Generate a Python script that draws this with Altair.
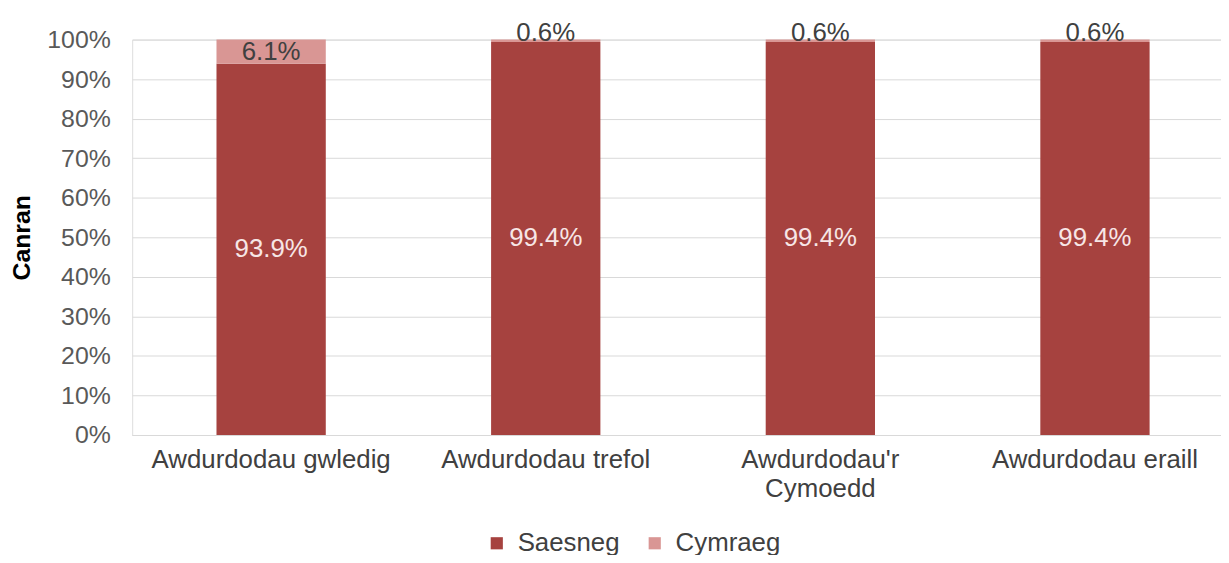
import altair as alt
import pandas as pd

categories = ["Awdurdodau gwledig", "Awdurdodau trefol", "Awdurdodau'r Cymoedd", "Awdurdodau eraill"]
series = ["Saesneg", "Cymraeg"]
saesneg = [93.9, 99.4, 99.4, 99.4]
cymraeg = [6.1, 0.6, 0.6, 0.6]
colors = ["#A6423F", "#D99694"]
y_ticks = [0, 10, 20, 30, 40, 50, 60, 70, 80, 90, 100]

rows = []
for i, c in enumerate(categories):
    rows.append({"category": c, "series": "Saesneg", "value": saesneg[i], "order": 0})
    rows.append({"category": c, "series": "Cymraeg", "value": cymraeg[i], "order": 1})
df = pd.DataFrame(rows)

FONT = "Liberation Sans"

label_expr = "datum.label == \"Awdurdodau'r Cymoedd\" ? [\"Awdurdodau'r\", \"Cymoedd\"] : datum.label"

x_axis = alt.Axis(
    title=None, labelAngle=0, labelFont=FONT, labelFontSize=26,
    labelColor="#404040", ticks=False, tickSize=0, domain=True,
    domainColor="#D9D9D9", labelPadding=12, labelLimit=500,
    labelLineHeight=29, labelExpr=label_expr, grid=False,
)
x_scale = alt.Scale(paddingInner=0.602, paddingOuter=0.307, range=[0, 1109])
y_axis = alt.Axis(
    title="Canran", titleFont=FONT, titleFontSize=25, titleFontWeight="bold",
    titleColor="#000000", titlePadding=12,
    values=y_ticks, labelExpr="datum.value + '%'", labelFont=FONT,
    labelFontSize=25, labelColor="#595959", ticks=False, tickSize=0,
    labelPadding=22, domain=False, gridColor="#D9D9D9", gridWidth=1,
    labelOverlap=False,
)
y_scale = alt.Scale(domain=[0, 100], nice=False)

x_enc = alt.X("category:N", sort=categories, scale=x_scale, axis=x_axis)

base = alt.Chart(df).transform_stack(
    stack="value", groupby=["category"], as_=["y0", "y1"],
    sort=[alt.SortField("order", order="ascending")],
).transform_calculate(
    mid="(datum.y0 + datum.y1) / 2",
    label="format(datum.value, '.1f') + '%'",
)

bars = base.mark_bar().encode(
    x=x_enc,
    y=alt.Y("y0:Q", scale=y_scale, axis=y_axis),
    y2="y1:Q",
    color=alt.Color(
        "series:N",
        scale=alt.Scale(domain=series, range=colors),
        legend=alt.Legend(
            title=None, orient="none", direction="horizontal",
            legendX=354, legendY=494, symbolType="square", symbolSize=150,
            symbolStrokeWidth=0, labelFont=FONT, labelFontSize=26,
            labelColor="#404040", labelOffset=8, columnPadding=22, padding=0,
        ),
    ),
    order=alt.Order("order:Q"),
)

y_mid = alt.Y("mid:Q", scale=y_scale, axis=y_axis)

text_in = base.transform_filter("datum.series == 'Saesneg'").mark_text(
    font=FONT, fontSize=26, color="#F7E6E6", baseline="middle"
).encode(x=x_enc, y=y_mid, text="label:N")

text_top_big = base.transform_filter("datum.series == 'Cymraeg' && datum.value >= 1").mark_text(
    font=FONT, fontSize=26, color="#404040", baseline="middle"
).encode(x=x_enc, y=y_mid, text="label:N")

text_top_small = base.transform_filter("datum.series == 'Cymraeg' && datum.value < 1").mark_text(
    font=FONT, fontSize=26, color="#404040", baseline="middle", dy=-8
).encode(x=x_enc, y=y_mid, text="label:N")

chart = alt.layer(bars, text_in, text_top_big, text_top_small).properties(
    width=1096, height=398,
    padding={"left": 125, "top": 30, "right": 0, "bottom": 119},
    autosize=alt.AutoSizeParams(type="none"),
).configure_view(stroke=None).configure(background="white")

chart.save("out.html", embed_options={"renderer": "svg", "actions": False})
